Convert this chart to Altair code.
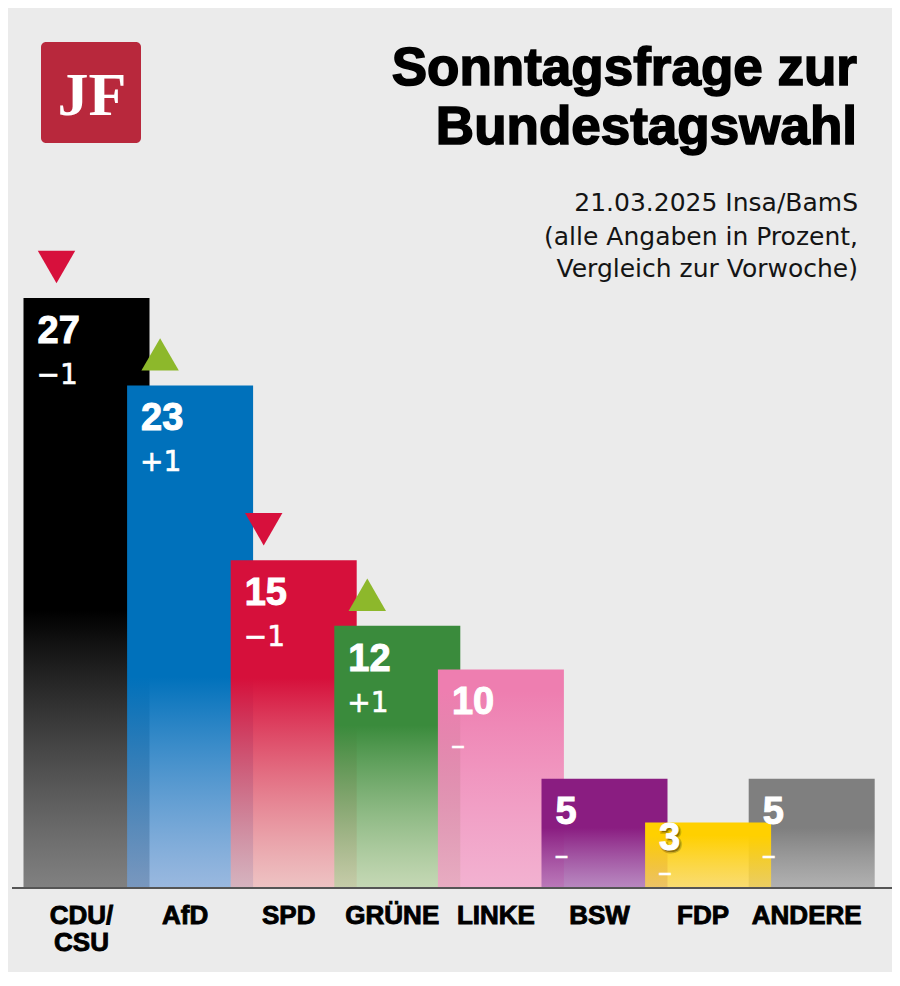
import altair as alt
import pandas as pd

# ---------------- data ----------------
parties = ["CDU/CSU", "AfD", "SPD", "GRÜNE", "LINKE", "BSW", "FDP", "ANDERE"]
party_labels = ["CDU/\nCSU", "AfD", "SPD", "GRÜNE", "LINKE", "BSW", "FDP", "ANDERE"]
values = [27, 23, 15, 12, 10, 5, 3, 5]
changes = [-1, 1, -1, 1, 0, 0, 0, 0]

title_lines = ["Sonntagsfrage zur", "Bundestagswahl"]
subtitle_lines = ["21.03.2025 Insa/BamS", "(alle Angaben in Prozent,", "Vergleich zur Vorwoche)"]
logo_text = "JF"

# ---------------- styles ----------------
bar_styles = {
    "CDU/CSU": ("#000000", "rgba(88,88,88,0.72)", 0.53),
    "AfD": ("#0071bb", "rgba(118,162,218,0.69)", 0.58),
    "SPD": ("#d6103b", "rgba(239,178,178,0.70)", 0.36),
    "GRÜNE": ("#3a8b3c", "rgba(181,208,158,0.70)", 0.38),
    "LINKE": ("#ee7eb0", "rgba(245,156,199,0.72)", 0.10),
    "BSW": ("#8a1d81", "rgba(165,99,176,0.72)", 0.45),
    "ANDERE": ("#7f7f7f", "rgba(155,155,155,0.72)", 0.45),
    "FDP": ("#ffd000", "rgba(254,215,74,0.75)", 0.20),
}
draw_order = ["CDU/CSU", "AfD", "SPD", "GRÜNE", "LINKE", "BSW", "ANDERE", "FDP"]

BG = "#ebebeb"
HEAVY = "Liberation Sans"
LIGHT = "DejaVu Sans"

W, H = 884, 880
Y_MAX = 40.27
PX = H / Y_MAX  # pixels per percentage point

df = pd.DataFrame({"party": parties, "label": party_labels, "value": values, "change": changes})


def change_text(c):
    if c > 0:
        return "+" + str(c)
    if c < 0:
        return "\u2212" + str(abs(c))
    return "\u2013"


df["change_label"] = [change_text(c) for c in df["change"]]
df["direction"] = ["up" if c > 0 else ("down" if c < 0 else "none") for c in df["change"]]
# label anchors: fixed pixel distance below the bar top, kept inside short bars
df["val_y"] = [max(v - 45 / PX, 38 / PX) for v in df["value"]]
df["chg_y"] = [max(v - 86 / PX, 6 / PX) for v in df["value"]]

x_enc = alt.X(
    "party:N",
    sort=parties,
    scale=alt.Scale(domain=parties, range=[26.7, 855.5], paddingInner=0, paddingOuter=0),
    axis=None,
)
y_scale = alt.Scale(domain=[0, Y_MAX], nice=False, zero=True)
y_enc = alt.Y("value:Q", scale=y_scale, axis=None)

base = alt.Chart(df)

# ---------------- bars ----------------
bar_layers = []
for p in draw_order:
    top, bottom, start = bar_styles[p]
    grad = alt.Gradient(
        gradient="linear",
        stops=[
            alt.GradientStop(color=top, offset=0),
            alt.GradientStop(color=top, offset=start),
            alt.GradientStop(color=bottom, offset=1),
        ],
        x1=0, x2=0, y1=0, y2=1,
    )
    bar_layers.append(
        base.transform_filter(alt.datum.party == p)
        .mark_bar(size=126, color=grad)
        .encode(x=x_enc, y=y_enc)
    )

one = pd.DataFrame({"k": [0]})

baseline = alt.Chart(one).mark_rule(color="#555555", strokeWidth=2).encode(
    x=alt.value(4), x2=alt.value(W), y=alt.value(H)
)

# ---------------- labels ----------------
axis_labels = base.mark_text(
    font=HEAVY, fontWeight="bold", fontSize=26, color="#000000", align="center",
    baseline="top", lineBreak="\n", lineHeight=27, dx=-5, dy=0,
    stroke="#000000", strokeWidth=0.9
).encode(x=x_enc, y=alt.value(H + 15), text="label:N")

shadow = (
    base.transform_filter(alt.datum.party == "FDP")
    .mark_text(font=HEAVY, fontWeight="bold", fontSize=38, align="left", baseline="alphabetic",
               dx=-47.5, dy=1.5, color="rgba(60,40,0,0.45)", stroke="rgba(60,40,0,0.25)", strokeWidth=3)
    .encode(x=x_enc, y=alt.Y("val_y:Q", scale=y_scale, axis=None), text="value:Q")
)
value_labels = base.mark_text(
    font=HEAVY, fontWeight="bold", fontSize=38, align="left", baseline="alphabetic",
    dx=-49, color="#ffffff", stroke="#ffffff", strokeWidth=1
).encode(x=x_enc, y=alt.Y("val_y:Q", scale=y_scale, axis=None), text="value:Q")

change_labels = base.mark_text(
    font=LIGHT, fontSize=28, align="left", baseline="alphabetic", dx=-50, color="#ffffff",
    stroke="#ffffff", strokeWidth=0.6
).encode(
    x=x_enc,
    y=alt.Y("chg_y:Q", scale=y_scale, axis=None),
    text="change_label:N",
)

triangles = (
    base.transform_filter(alt.datum.change != 0)
    .mark_point(filled=True, size=1400, opacity=1, strokeWidth=0, xOffset=-30, yOffset=-31)
    .encode(
        x=x_enc,
        y=y_enc,
        shape=alt.Shape("direction:N", scale=alt.Scale(domain=["down", "up"], range=["triangle-down", "triangle-up"]), legend=None),
        color=alt.Color("direction:N", scale=alt.Scale(domain=["down", "up"], range=["#d7103c", "#8db82b"]), legend=None),
    )
)

# ---------------- header ----------------
logo_box = alt.Chart(one).mark_rect(color="#b8283c", cornerRadius=5).encode(
    x=alt.value(33), x2=alt.value(133), y=alt.value(34), y2=alt.value(135)
)
logo = alt.Chart(one).mark_text(
    text=logo_text, font="Liberation Serif", fontWeight="bold", fontSize=62, color="#ffffff",
    align="center", baseline="alphabetic"
).encode(x=alt.value(84), y=alt.value(107))

title_marks = []
for line, yy in zip(title_lines, [77, 136]):
    title_marks.append(
        alt.Chart(one).mark_text(
            text=line, font=HEAVY, fontWeight="bold", fontSize=53, color="#000000",
            align="right", baseline="alphabetic", stroke="#000000", strokeWidth=1.6
        ).encode(x=alt.value(849), y=alt.value(yy))
    )

subs = []
for line, yy in zip(subtitle_lines, [203, 237, 269]):
    subs.append(
        alt.Chart(one).mark_text(
            text=line, font=LIGHT, fontSize=25, color="#141414", align="right", baseline="alphabetic"
        ).encode(x=alt.value(850), y=alt.value(yy))
    )

chart = (
    alt.layer(*bar_layers, baseline, axis_labels, shadow, value_labels, change_labels, triangles,
              logo_box, logo, *title_marks, *subs)
    .properties(
        width=W,
        height=H,
        autosize=alt.AutoSizeParams(type="none"),
        padding={"left": 0, "right": 0, "top": 0, "bottom": 84},
        background=BG,
    )
    .configure_view(stroke=None)
)

chart.save("out.html", embed_options={"renderer": "svg", "actions": False})
